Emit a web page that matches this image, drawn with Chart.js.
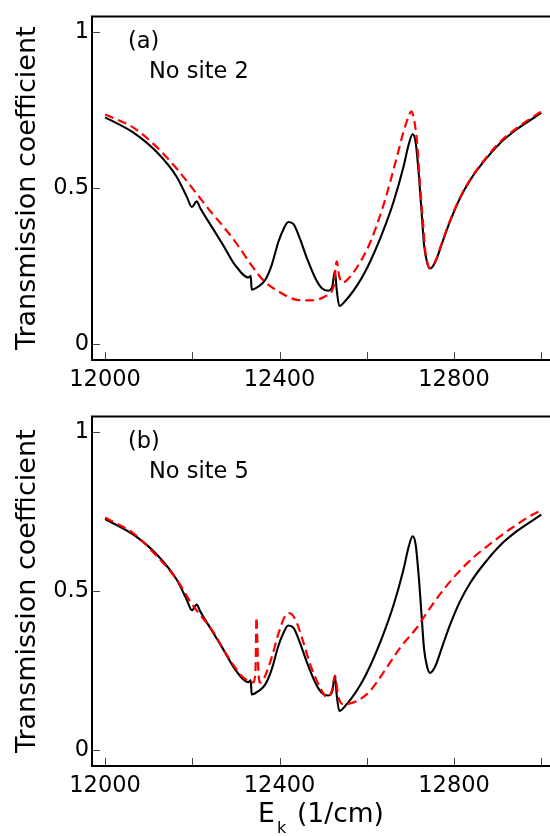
<!DOCTYPE html>
<html>
<head>
<meta charset="utf-8">
<script src="https://cdn.jsdelivr.net/npm/chart.js@4"></script>
<style>
  html, body { margin: 0; padding: 0; background: #fff; overflow: hidden; }
  .panel { position: absolute; left: 0; }
</style>
</head>
<body>
<div class="panel" style="top:0"><canvas id="panelA" width="550" height="400"></canvas></div>
<div class="panel" style="top:400px"><canvas id="panelB" width="550" height="436"></canvas></div>
<script>
// full molecule (solid black, same in both panels)
const energyFull = [12000, 12065, 12119, 12164, 12187, 12199, 12210, 12218, 12248, 12271, 12298, 12329, 12334, 12336,
  12352, 12367, 12382, 12397, 12409, 12420, 12432, 12447, 12463, 12482, 12497, 12512, 12521, 12527, 12531, 12537,
  12550, 12585, 12610, 12638, 12661, 12684, 12696, 12705, 12712, 12720, 12726, 12731, 12738, 12745, 12757, 12772,
  12791, 12814, 12837, 12868, 12906, 12944, 13000];
const transFull = [0.727, 0.678, 0.615, 0.537, 0.474, 0.440, 0.458, 0.437, 0.369, 0.317, 0.254, 0.214, 0.220, 0.175,
  0.186, 0.206, 0.254, 0.327, 0.369, 0.392, 0.385, 0.337, 0.275, 0.212, 0.180, 0.172, 0.186, 0.235, 0.175, 0.123,
  0.138, 0.205, 0.272, 0.365, 0.455, 0.568, 0.640, 0.673, 0.647, 0.531, 0.416, 0.322, 0.264, 0.243, 0.264, 0.322,
  0.395, 0.469, 0.526, 0.585, 0.645, 0.689, 0.741];

// (a) site 2 removed (dashed red)
const energyNoSite2 = [12000, 12065, 12119, 12164, 12203, 12241, 12279, 12310, 12333, 12363, 12397, 12443, 12474,
  12505, 12524, 12531, 12537, 12544, 12554, 12585, 12608, 12638, 12669, 12684, 12696, 12702, 12709, 12716, 12722,
  12728, 12734, 12740, 12745, 12757, 12772, 12791, 12814, 12837, 12868, 12906, 12944, 13000];
const transNoSite2 = [0.736, 0.694, 0.631, 0.563, 0.495, 0.427, 0.364, 0.306, 0.258, 0.205, 0.170, 0.142, 0.141,
  0.154, 0.186, 0.266, 0.217, 0.198, 0.205, 0.264, 0.327, 0.445, 0.600, 0.680, 0.730, 0.746, 0.715, 0.636, 0.510,
  0.406, 0.300, 0.255, 0.245, 0.266, 0.324, 0.397, 0.471, 0.528, 0.588, 0.649, 0.693, 0.746];

// (b) site 5 removed (dashed red)
const energyNoSite5 = [12000, 12065, 12119, 12164, 12200, 12248, 12271, 12298, 12317, 12329, 12340, 12345, 12347,
  12350, 12352, 12356, 12363, 12382, 12397, 12413, 12422, 12436, 12451, 12470, 12493, 12509, 12520, 12527, 12535,
  12546, 12562, 12581, 12608, 12638, 12677, 12715, 12738, 12768, 12806, 12844, 12883, 12929, 12990, 13000];
const transNoSite5 = [0.732, 0.682, 0.610, 0.537, 0.458, 0.372, 0.318, 0.260, 0.228, 0.218, 0.213, 0.260, 0.418,
  0.300, 0.235, 0.212, 0.222, 0.292, 0.365, 0.423, 0.431, 0.412, 0.355, 0.271, 0.197, 0.166, 0.187, 0.234, 0.166,
  0.145, 0.147, 0.157, 0.187, 0.244, 0.323, 0.386, 0.433, 0.491, 0.554, 0.606, 0.649, 0.696, 0.748, 0.752];

const xTicks = [12000, 12200, 12400, 12600, 12800, 13000];
const xTickLabels = ['12000', '', '12400', '', '12800', ''];
const yTicks = [0, 0.5, 1];
const yTickLabels = ['0', '0.5', '1'];

const FONT = "'DejaVu Sans', 'Liberation Sans', sans-serif";

function toPoints(xs, ys) {
  return xs.map((x, i) => ({ x: x, y: ys[i] }));
}

// frame on three sides, inward tick marks, panel notes and the subscripted x title
const framePlugin = {
  id: 'frame',
  afterDraw(chart, args, opts) {
    const ctx = chart.ctx;
    const a = chart.chartArea;
    const xs = chart.scales.x;
    const ys = chart.scales.y;
    ctx.save();
    ctx.strokeStyle = '#444';
    ctx.lineWidth = 1;
    ctx.beginPath();
    xTicks.forEach(v => {
      const px = Math.round(xs.getPixelForValue(v)) + 0.5;
      ctx.moveTo(px, a.bottom);
      ctx.lineTo(px, a.bottom - 8);
    });
    yTicks.forEach(v => {
      const py = Math.round(ys.getPixelForValue(v)) + 0.5;
      ctx.moveTo(a.left, py);
      ctx.lineTo(a.left + 8, py);
    });
    ctx.stroke();

    ctx.strokeStyle = '#000';
    ctx.lineWidth = 2;
    ctx.beginPath();
    ctx.moveTo(a.right + 5, a.top);
    ctx.lineTo(a.left, a.top);
    ctx.lineTo(a.left, a.bottom);
    ctx.lineTo(a.right + 5, a.bottom);
    ctx.stroke();

    ctx.fillStyle = '#000';
    ctx.textBaseline = 'middle';
    ctx.textAlign = 'left';
    ctx.font = '22.5px ' + FONT;
    ctx.fillText(opts.tag, 128, a.top + 26);
    ctx.fillText(opts.note, 149, a.top + 56);

    if (opts.xTitle) {
      ctx.textBaseline = 'alphabetic';
      ctx.font = '26.5px ' + FONT;
      ctx.fillText('E', 258, a.bottom + 56);
      ctx.font = '16px ' + FONT;
      ctx.fillText('k', 277, a.bottom + 67);
      ctx.font = '26.5px ' + FONT;
      ctx.fillText('(1/cm)', 297, a.bottom + 56);
    }
    ctx.restore();
  }
};

function makePanel(id, redE, redT, tag, note, padTop, xHeight, xTitle) {
  return new Chart(document.getElementById(id), {
    type: 'line',
    data: {
      datasets: [
        {
          label: note,
          data: toPoints(redE, redT),
          borderColor: '#ff0000',
          borderWidth: 2.2,
          borderDash: [9, 5],
          pointRadius: 0,
          cubicInterpolationMode: 'monotone',
          order: 0
        },
        {
          label: 'Full',
          data: toPoints(energyFull, transFull),
          borderColor: '#000000',
          borderWidth: 2.1,
          pointRadius: 0,
          cubicInterpolationMode: 'monotone',
          order: 1
        }
      ]
    },
    options: {
      responsive: false,
      animation: false,
      devicePixelRatio: 1,
      layout: { padding: { left: 0, right: 0, top: padTop, bottom: 0 } },
      plugins: {
        legend: { display: false },
        tooltip: { enabled: false },
        frame: { tag: tag, note: note, xTitle: xTitle }
      },
      scales: {
        x: {
          type: 'linear',
          min: 11970,
          max: 13020,
          grid: { display: false, drawTicks: false },
          border: { display: false },
          afterBuildTicks: s => { s.ticks = xTicks.map(v => ({ value: v })); },
          afterFit: s => { s.height = xHeight; },
          ticks: {
            padding: 7,
            color: '#000',
            font: { family: FONT, size: 22.5 },
            maxRotation: 0,
            autoSkip: false,
            callback: v => xTickLabels[xTicks.indexOf(v)]
          }
        },
        y: {
          type: 'linear',
          min: -0.05,
          max: 1.05,
          grid: { display: false, drawTicks: false },
          border: { display: false },
          afterBuildTicks: s => { s.ticks = yTicks.map(v => ({ value: v })); },
          afterFit: s => { s.width = 92; },
          ticks: {
            padding: 3,
            color: '#000',
            font: { family: FONT, size: 22.5 },
            callback: v => yTickLabels[yTicks.indexOf(v)]
          },
          title: {
            display: true,
            text: 'Transmission coefficient',
            color: '#000',
            font: { family: FONT, size: 27 },
            padding: { top: 12, bottom: 0 }
          }
        }
      }
    },
    plugins: [framePlugin]
  });
}

makePanel('panelA', energyNoSite2, transNoSite2, '(a)', 'No site 2', 11, 40, false);
makePanel('panelB', energyNoSite5, transNoSite5, '(b)', 'No site 5', 16, 70, true);
</script>
</body>
</html>
